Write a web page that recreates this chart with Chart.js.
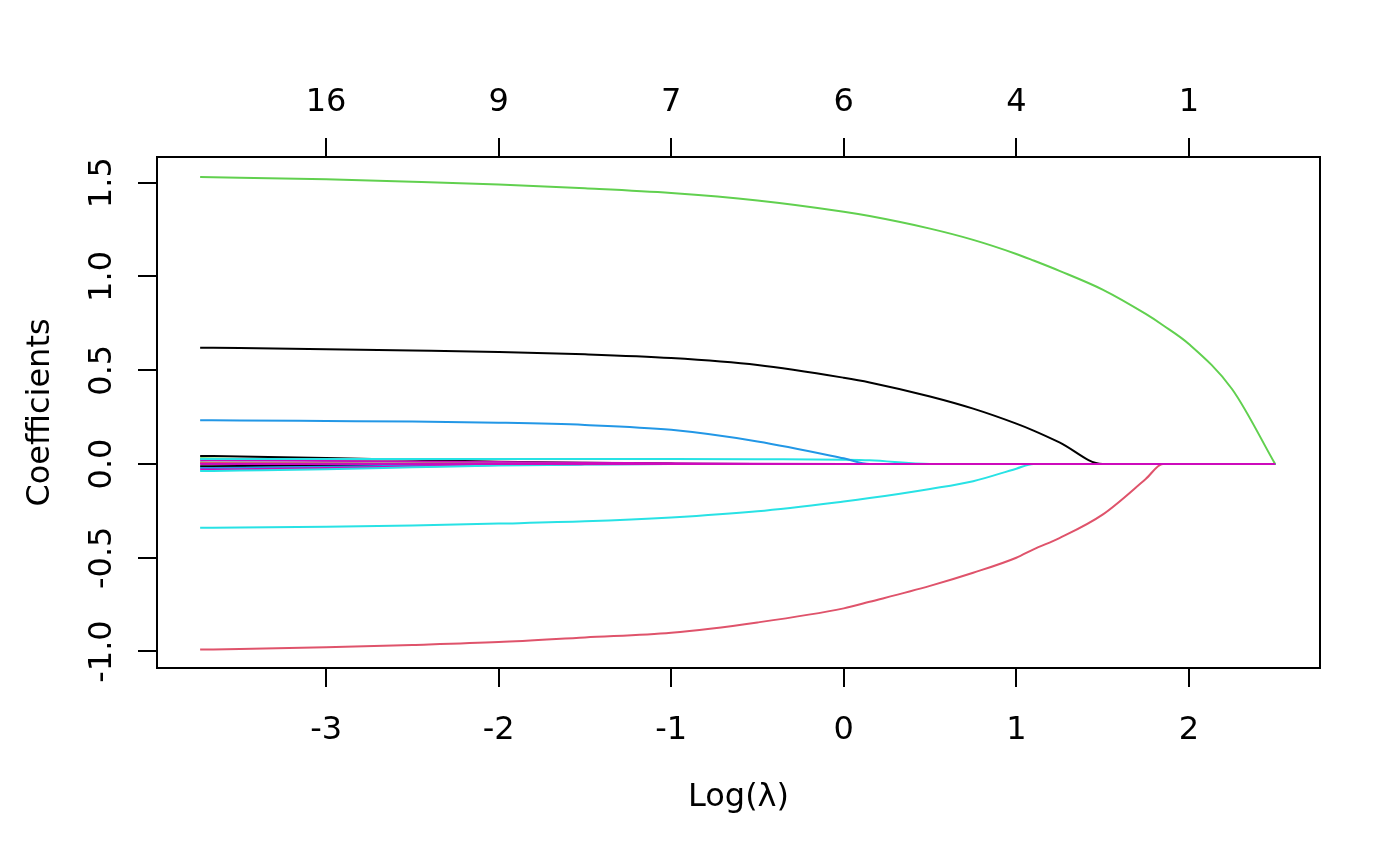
<!DOCTYPE html>
<html>
<head>
<meta charset="utf-8">
<script src="https://cdn.jsdelivr.net/npm/chart.js"></script>
<style>
  body { margin: 0; background: #ffffff; }
  #grafico { display: block; }
</style>
</head>
<body>
<canvas id="grafico" width="1400" height="865"></canvas>
<script>
// dados (caminho do lasso)
const logLambda = [-3.73, -3.5, -3, -2.5, -2, -1.5, -1, -0.5, 0, 0.15, 0.5, 0.75, 1, 1.1, 1.25, 1.5, 1.75, 1.85, 2, 2.25, 2.5];

const coefVerde    = [1.53, 1.527, 1.518, 1.505, 1.49, 1.47, 1.445, 1.405, 1.345, 1.322, 1.255, 1.195, 1.12, 1.085, 1.03, 0.93, 0.8, 0.74, 0.64, 0.4, 0];
const coefPreto    = [0.62, 0.618, 0.612, 0.605, 0.597, 0.585, 0.565, 0.528, 0.46, 0.435, 0.36, 0.295, 0.215, 0.178, 0.115, 0, 0, 0, 0, 0, 0];
const coefAzul     = [0.233, 0.232, 0.229, 0.226, 0.22, 0.208, 0.182, 0.12, 0.03, 0, 0, 0, 0, 0, 0, 0, 0, 0, 0, 0, 0];
const coefCianoNeg = [-0.34, -0.339, -0.335, -0.328, -0.318, -0.306, -0.285, -0.252, -0.2, -0.182, -0.133, -0.092, -0.025, 0, 0, 0, 0, 0, 0, 0, 0];
const coefVermelho = [-0.99, -0.987, -0.977, -0.965, -0.95, -0.925, -0.9, -0.845, -0.77, -0.735, -0.65, -0.58, -0.5, -0.455, -0.395, -0.27, -0.08, 0, 0, 0, 0];
const coefCianoPos = [0.027, 0.027, 0.027, 0.027, 0.027, 0.027, 0.026, 0.025, 0.023, 0.02, 0, 0, 0, 0, 0, 0, 0, 0, 0, 0, 0];

// coeficientes pequenos perto de zero
const pequenoA = [0.043, 0.04, 0.032, 0.022, 0.012, 0.006, 0.002, 0, 0, 0, 0, 0, 0, 0, 0, 0, 0, 0, 0, 0, 0];
const pequenoB = [0.03, 0.027, 0.02, 0.012, 0.005, 0.001, 0, 0, 0, 0, 0, 0, 0, 0, 0, 0, 0, 0, 0, 0, 0];
const pequenoC = [0.02, 0.019, 0.016, 0.013, 0.01, 0.007, 0.004, 0.001, 0, 0, 0, 0, 0, 0, 0, 0, 0, 0, 0, 0, 0];
const pequenoD = [0.01, 0.009, 0.006, 0.003, 0.001, 0, 0, 0, 0, 0, 0, 0, 0, 0, 0, 0, 0, 0, 0, 0, 0];
const pequenoE = [0.005, 0.004, 0.002, 0.001, 0, 0, 0, 0, 0, 0, 0, 0, 0, 0, 0, 0, 0, 0, 0, 0, 0];
const pequenoF = [-0.012, -0.011, -0.008, -0.004, -0.001, 0, 0, 0, 0, 0, 0, 0, 0, 0, 0, 0, 0, 0, 0, 0, 0];
const pequenoG = [-0.022, -0.02, -0.015, -0.009, -0.003, 0, 0, 0, 0, 0, 0, 0, 0, 0, 0, 0, 0, 0, 0, 0, 0];
const pequenoH = [-0.03, -0.028, -0.022, -0.014, -0.006, -0.002, 0, 0, 0, 0, 0, 0, 0, 0, 0, 0, 0, 0, 0, 0, 0];
const pequenoI = [-0.038, -0.035, -0.028, -0.018, -0.008, -0.003, 0, 0, 0, 0, 0, 0, 0, 0, 0, 0, 0, 0, 0, 0, 0];
const coefZero = [0, 0, 0, 0, 0, 0, 0, 0, 0, 0, 0, 0, 0, 0, 0, 0, 0, 0, 0, 0, 0];

// ticks dos eixos
const xTicks = [-3, -2, -1, 0, 1, 2];
const dfLabels = ['16', '9', '7', '6', '4', '1'];
const yTicks = [-1, -0.5, 0, 0.5, 1, 1.5];

const fonte = { family: 'DejaVu Sans', size: 32 };

function pontos(valores) {
    return logLambda.map(function(x, i) { return { x: x, y: valores[i] }; });
}

function serie(valores, cor) {
    return {
        data: pontos(valores),
        borderColor: cor,
        borderWidth: 2,
        pointRadius: 0,
        fill: false,
        cubicInterpolationMode: 'monotone'
    };
}

// desenha a caixa em volta da area do grafico
const caixa = {
    id: 'caixa',
    afterDraw: function(chart) {
        const a = chart.chartArea;
        const ctx = chart.ctx;
        ctx.save();
        ctx.strokeStyle = '#000000';
        ctx.lineWidth = 2;
        ctx.strokeRect(a.left, a.top, a.right - a.left, a.bottom - a.top);
        ctx.restore();
    }
};

function fixarTicks(lista) {
    return function(scale) {
        scale.ticks = lista.map(function(v) { return { value: v }; });
    };
}

const gradeEixo = { drawOnChartArea: false, drawTicks: true, tickLength: 19, color: '#000000', lineWidth: 2 };

function criarGrafico(canvasID) {
    const ctx = document.getElementById(canvasID).getContext('2d');

    new Chart(ctx, {
        type: 'line',
        data: {
            datasets: [
                // o primeiro fica por cima
                serie(coefZero, '#CD0BBC'),
                serie(coefVermelho, '#DF536B'),
                serie(coefCianoNeg, '#28E2E5'),
                serie(coefVerde, '#61D04F'),
                serie(coefPreto, '#000000'),
                serie(coefAzul, '#2297E6'),
                serie(coefCianoPos, '#28E2E5'),
                serie(pequenoI, '#28E2E5'),
                serie(pequenoH, '#CD0BBC'),
                serie(pequenoG, '#2297E6'),
                serie(pequenoF, '#000000'),
                serie(pequenoE, '#DF536B'),
                serie(pequenoD, '#9E9E9E'),
                serie(pequenoC, '#CD0BBC'),
                serie(pequenoB, '#61D04F'),
                serie(pequenoA, '#000000')
            ]
        },
        plugins: [caixa],
        options: {
            responsive: false,
            animation: false,
            layout: { padding: { left: 0, right: 80, top: 0, bottom: 0 } },
            plugins: {
                legend: { display: false },
                tooltip: { enabled: false }
            },
            scales: {
                x: {
                    type: 'linear',
                    position: 'bottom',
                    min: -3.98,
                    max: 2.76,
                    afterBuildTicks: fixarTicks(xTicks),
                    afterFit: function(scale) { scale.height = 197; },
                    grid: gradeEixo,
                    border: { display: false },
                    ticks: {
                        color: '#000000',
                        font: fonte,
                        padding: 24,
                        maxRotation: 0,
                        callback: function(v) { return String(v); }
                    },
                    title: {
                        display: true,
                        text: 'Log(λ)',
                        color: '#000000',
                        font: fonte,
                        padding: { top: 0, bottom: 48 }
                    }
                },
                x2: {
                    type: 'linear',
                    position: 'top',
                    min: -3.98,
                    max: 2.76,
                    afterBuildTicks: fixarTicks(xTicks),
                    afterFit: function(scale) { scale.height = 157; },
                    grid: gradeEixo,
                    border: { display: false },
                    ticks: {
                        color: '#000000',
                        font: fonte,
                        padding: 16,
                        maxRotation: 0,
                        callback: function(v) { return dfLabels[xTicks.indexOf(v)]; }
                    }
                },
                y: {
                    type: 'linear',
                    position: 'left',
                    min: -1.088,
                    max: 1.637,
                    afterBuildTicks: fixarTicks(yTicks),
                    afterFit: function(scale) { scale.width = 157; },
                    grid: gradeEixo,
                    border: { display: false },
                    ticks: {
                        color: '#000000',
                        font: fonte,
                        padding: 4,
                        minRotation: 90,
                        maxRotation: 90,
                        crossAlign: 'center',
                        callback: function(v) { return v.toFixed(1); }
                    },
                    title: {
                        display: true,
                        text: 'Coefficients',
                        color: '#000000',
                        font: fonte,
                        padding: { top: 21, bottom: 0 }
                    }
                }
            }
        }
    });
}

criarGrafico('grafico');
</script>
</body>
</html>
